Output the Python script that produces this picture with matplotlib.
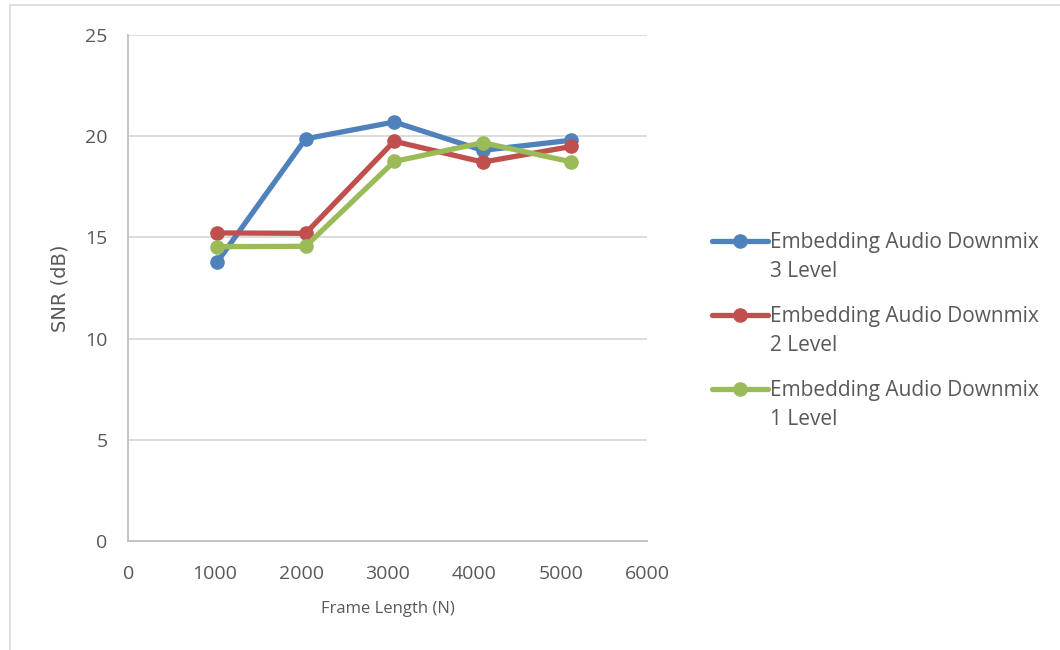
import matplotlib.pyplot as plt
from matplotlib.patches import Rectangle

# Data
frame_length = [1024, 2048, 3072, 4096, 5120]
snr_level3 = [13.77, 19.87, 20.70, 19.30, 19.80]
snr_level2 = [15.22, 15.20, 19.75, 18.72, 19.49]
snr_level1 = [14.54, 14.56, 18.75, 19.68, 18.73]
label_first = ["Embedding Audio Downmix"] * 3
label_second = ["3 Level", "2 Level", "1 Level"]
colors = ["#4f81bd", "#c0504d", "#9bbb59"]

plt.rcParams['font.family'] = ['Open Sans', 'DejaVu Sans']
text_color = "#595959"
W, H = 1060, 650

fig = plt.figure(figsize=(W / 100, H / 100), dpi=100)
ax = fig.add_axes([0.1212, 0.1677, 0.4896, 0.7785])

# outer chart border
fig.patches.append(Rectangle((10 / W, -0.1), 1.2, 1 - 5 / H + 0.1,
                             transform=fig.transFigure, fill=False,
                             edgecolor="#d9d9d9", linewidth=1.2))

for ys, c, lab in zip([snr_level3, snr_level2, snr_level1], colors, label_first):
    ax.plot(frame_length, ys, color=c, linewidth=3.8, marker='o',
            markersize=9.5, label=lab, solid_capstyle='round', zorder=3)

ax.set_xlim(0, 6000)
ax.set_ylim(0, 25)
ax.set_xticks(range(0, 6001, 1000))
ax.set_yticks(range(0, 26, 5))
ax.grid(axis='y', color="#d9d9d9", linewidth=1.3)
ax.set_axisbelow(True)
for s in ['top', 'right']:
    ax.spines[s].set_visible(False)
for s in ['left', 'bottom']:
    ax.spines[s].set_color("#bfbfbf")
    ax.spines[s].set_linewidth(1.3)
ax.tick_params(length=0, labelsize=14, colors=text_color)
ax.tick_params(axis='y', pad=15)
ax.tick_params(axis='x', pad=17)

ax.set_ylabel("SNR (dB)", fontsize=14, color=text_color, family='DejaVu Sans')
ax.yaxis.set_label_coords(-0.132, 0.5)
ax.yaxis.label.set_va('center')
ax.set_xlabel("Frame Length (N)", fontsize=12, color=text_color)
ax.xaxis.set_label_coords(0.5, -0.134)
ax.xaxis.label.set_va('center')

leg = ax.legend(loc='upper left', bbox_to_anchor=(712 / W, 1 - 232 / H),
                bbox_transform=fig.transFigure, frameon=False,
                fontsize=15, handlelength=2.7, handletextpad=0.1,
                borderpad=0, borderaxespad=0,
                labelspacing=2.55, labelcolor=text_color)

# second line of each legend label, placed under the first line
fig.canvas.draw()
for t, second in zip(leg.get_texts(), label_second):
    bb = t.get_window_extent()
    yc = (bb.y0 + bb.y1) / 2 - 29
    fig.text(bb.x0 / W, yc / H, second, fontsize=15, color=text_color,
             ha='left', va='center')

fig.savefig("out.png", dpi=100)
